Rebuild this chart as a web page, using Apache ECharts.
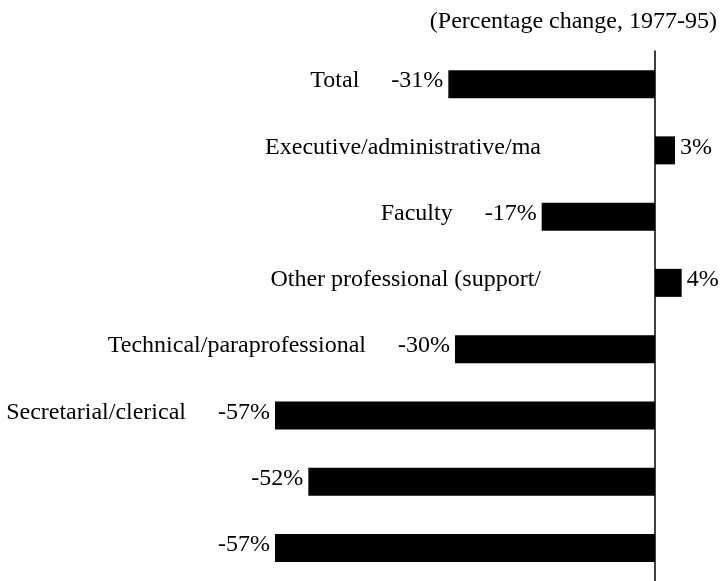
<!DOCTYPE html>
<html>
<head>
<meta charset="utf-8">
<script src="https://cdn.jsdelivr.net/npm/echarts@6/dist/echarts.min.js"></script>
<style>
  html, body { margin: 0; padding: 0; background: #ffffff; }
  #chart { width: 725px; height: 581px; }
</style>
</head>
<body>
<div id="chart"></div>
<script>
// ---- data ----
const categories = [
  'Total',
  'Executive/administrative/ma',
  'Faculty',
  'Other professional (support/',
  'Technical/paraprofessional',
  'Secretarial/clerical',
  '',
  ''
];
const changes = [-31, 3, -17, 4, -30, -57, -52, -57];
const titleText = '(Percentage change, 1977-95)';
const xMin = -60;
const xMax = 10;

// ---- chart ----
const FONT = '"Liberation Serif", "Times New Roman", serif';
const chart = echarts.init(document.getElementById('chart'), null, { renderer: 'canvas' });

const valueData = changes.map(v => ({
  value: v,
  label: {
    show: true,
    position: v < 0 ? 'left' : 'right',
    distance: 5,
    formatter: v + '%'
  }
}));

const nameData = changes.map((v, i) => ({
  value: v,
  label: {
    show: categories[i] !== '',
    position: 'left',
    distance: v < 0 ? 89 : 114,
    formatter: categories[i]
  }
}));

const labelBase = {
  fontFamily: FONT,
  fontSize: 24,
  color: '#000',
  offset: [0, -3]
};

chart.setOption({
  animation: false,
  backgroundColor: '#ffffff',
  title: {
    text: titleText,
    right: 3,
    top: 5,
    textStyle: { fontFamily: FONT, fontSize: 24, fontWeight: 'normal', color: '#000' }
  },
  grid: { left: 255, width: 466.67, top: 51, height: 535, containLabel: false },
  xAxis: {
    type: 'value',
    min: xMin,
    max: xMax,
    show: false,
    splitLine: { show: false }
  },
  yAxis: {
    type: 'category',
    data: categories,
    inverse: true,
    axisLine: { show: true, onZero: true, lineStyle: { color: '#000', width: 1.5 } },
    axisTick: { show: false },
    axisLabel: { show: false },
    splitLine: { show: false }
  },
  series: [
    {
      name: 'change',
      type: 'bar',
      data: valueData,
      barWidth: 28,
      itemStyle: { color: '#000' },
      label: labelBase,
      z: 2
    },
    {
      name: 'names',
      type: 'bar',
      data: nameData,
      barWidth: 28,
      barGap: '-100%',
      itemStyle: { color: 'rgba(0,0,0,0)' },
      label: labelBase,
      silent: true,
      z: 1
    }
  ]
});
</script>
</body>
</html>
